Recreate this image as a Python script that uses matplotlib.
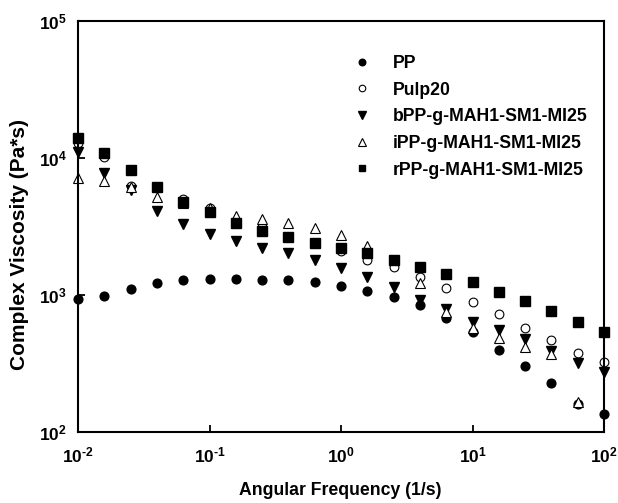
import numpy as np
import matplotlib
matplotlib.use("Agg")
import matplotlib.pyplot as plt

plt.rcParams['font.family'] = ['Liberation Sans', 'DejaVu Sans']
plt.rcParams['font.weight'] = 'bold'
plt.rcParams['mathtext.fontset'] = 'custom'
plt.rcParams['mathtext.rm'] = 'Liberation Sans'
plt.rcParams['mathtext.it'] = 'Liberation Sans'
plt.rcParams['mathtext.bf'] = 'Liberation Sans:bold'
plt.rcParams['axes.unicode_minus'] = False

freq = [0.01, 0.0158, 0.0251, 0.0398, 0.0631, 0.1, 0.158, 0.251, 0.398, 0.631,
        1.0, 1.58, 2.51, 3.98, 6.31, 10.0, 15.8, 25.1, 39.8, 63.1, 100.0]

pp = [932, 988, 1106, 1230, 1286, 1302, 1309, 1294, 1286, 1238,
      1169, 1070, 972, 840, 680, 534, 400, 305, 226, 160, 135]
pulp20 = [12860, 10120, 6250, 6100, 5020, 4290, 3400, 3150, 2650, 2400,
          2100, 1800, 1610, 1360, 1130, 893, 727, 571, 469, 375, 326]
bpp = [11120, 7810, 5840, 4100, 3280, 2770, 2480, 2220, 2020, 1800,
       1580, 1360, 1150, 920, 790, 638, 555, 475, 392, 317, 275]
ipp = [7180, 6800, 6140, 5220, 4700, 4300, 3790, 3570, 3340, 3100,
       2740, 2290, None, 1220, 755, 571, 483, 415, 371, 166, None]
rpp = [14060, 10940, 8170, 6180, 4750, 4010, 3370, 2930, 2660, 2390,
       2210, 2020, 1800, 1610, 1420, 1250, 1057, 909, 768, 638, 540]

labels = ["PP", "Pulp20", "bPP-g-MAH1-SM1-MI25", "iPP-g-MAH1-SM1-MI25", "rPP-g-MAH1-SM1-MI25"]
xticks = [1e-2, 1e-1, 1e0, 1e1, 1e2]
yticks = [1e2, 1e3, 1e4, 1e5]

def arr(v):
    return np.array([np.nan if x is None else x for x in v], dtype=float)

def powlabel(v):
    e = int(round(np.log10(v)))
    if e < 0:
        return r'10$^{\text{-}%d}$' % (-e)
    return r'10$^{%d}$' % e

fig = plt.figure(figsize=(6.18, 5.03), dpi=100)
ax = fig.add_axes([78/618, 1-432/503, (604-78)/618, (432-21)/503])

styles = [
    dict(marker='o', mfc='black', mec='black', ms=6.3),
    dict(marker='o', mfc='white', mec='black', ms=6.3, mew=0.8),
    dict(marker='v', mfc='black', mec='black', ms=7.0),
    dict(marker='^', mfc='white', mec='black', ms=7.0, mew=0.8),
    dict(marker='s', mfc='black', mec='black', ms=6.5),
]
for data, lab, st in zip([pp, pulp20, bpp, ipp, rpp], labels, styles):
    ax.plot(freq, arr(data), linestyle='none', label=lab, clip_on=False, **st)

ax.set_xscale('log')
ax.set_yscale('log')
ax.set_xlim(1e-2, 1e2)
ax.set_ylim(1e2, 1e5)

ax.set_xticks(xticks)
ax.set_xticklabels([powlabel(v) for v in xticks])
ax.set_yticks(yticks)
ax.set_yticklabels([powlabel(v) for v in yticks])
ax.minorticks_off()
ax.tick_params(axis='both', which='major', direction='in', length=5, width=1.3,
               labelsize=12.5, top=False, right=False)
ax.tick_params(axis='x', pad=10)
ax.tick_params(axis='y', pad=8)

for s in ax.spines.values():
    s.set_linewidth(1.5)

ax.set_xlabel('Angular Frequency (1/s)', fontsize=12.7, fontweight='bold')
ax.xaxis.set_label_coords((340-78)/526, (432-482)/411)
ax.set_ylabel('Complex Viscosity (Pa*s)', fontsize=15, fontweight='bold')
ax.yaxis.set_label_coords((29-78)/526, (432-245)/411)

leg = ax.legend(loc='upper left', bbox_to_anchor=(340/618, 1-46/503),
                bbox_transform=fig.transFigure, frameon=False,
                prop={'weight': 'bold', 'size': 12.7}, handletextpad=1.0,
                labelspacing=0.55, borderpad=0, handlelength=1.5, markerscale=0.75)

fig.savefig('out.png', dpi=100)
